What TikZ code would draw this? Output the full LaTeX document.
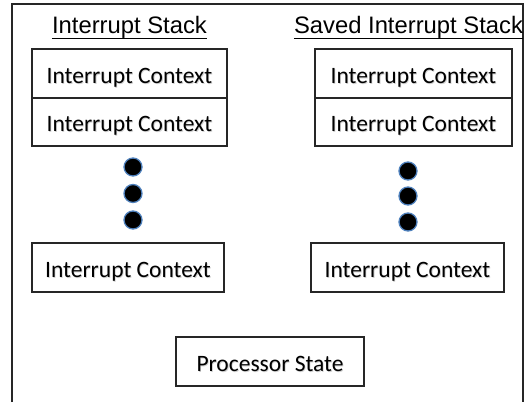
\documentclass[tikz,border=0pt]{standalone}
\usepackage{fontspec}
\setmainfont{Carlito}
\newfontfamily\titlefont{Liberation Sans}
\usetikzlibrary{positioning}

\definecolor{dotrim}{RGB}{79,129,189}

% soft drop shadow under label text
\newcommand\shadowedtext[1]{\leavevmode\rlap{\raisebox{-1.4pt}{\hspace{0.8pt}\textcolor{black!18}{#1}}}#1}

\tikzset{
  ctxbox/.style={draw=black!85, line width=1.4pt, fill=white, inner sep=0pt,
    minimum height=49pt, text height=19pt, text depth=0pt,
    font=\fontsize{23.5}{28}\selectfont},
  stacktitle/.style={inner sep=0pt, anchor=base, font=\titlefont\fontsize{23.8}{28}\selectfont},
  dot/.style={circle, fill=black, draw=dotrim, line width=1.3pt,
    minimum size=18pt, inner sep=0pt},
  frame/.style={draw=black!85, line width=1.4pt}
}

\begin{document}
\begin{tikzpicture}[x=1pt, y=-1pt]
\useasboundingbox (0,0) rectangle (530,402);

% outer frame, open at the bottom
\coordinate (fbl) at (12,402);
\coordinate (ftl) at (12,4);
\coordinate (ftr) at (523,4);
\coordinate (fbr) at (523,402);
\draw[frame] (fbl) -- (ftl) -- (ftr) -- (fbr);

% stack titles
\node[stacktitle] (tl) at (129.5,33) {Interrupt Stack};
\node[stacktitle] (tr) at (408.5,33) {Saved Interrupt Stack};
\draw[line width=1.3pt] ([yshift=-5.5pt]tl.base west) -- ([yshift=-5.5pt]tl.base east);
\draw[line width=1.3pt] ([yshift=-5.5pt]tr.base west) -- ([yshift=-5.5pt]tr.base east);

% interrupt stack
\node[ctxbox, minimum width=195pt] (l1) at (129.5,73.5) {\shadowedtext{Interrupt Context}};
\node[ctxbox, minimum width=195pt, minimum height=48pt] (l2) at (129.5,122) {\shadowedtext{Interrupt Context}};
\node[dot] (ld1) at (133,167) {};
\node[dot] (ld2) at (133,193.5) {};
\node[dot] (ld3) at (133,220) {};
\node[ctxbox, minimum width=192pt] (l3) at (128,267.5) {\shadowedtext{Interrupt Context}};

% saved interrupt stack
\node[ctxbox, minimum width=197pt] (r1) at (413.5,73.5) {\shadowedtext{Interrupt Context}};
\node[ctxbox, minimum width=197pt, minimum height=48pt] (r2) at (413.5,122) {\shadowedtext{Interrupt Context}};
\node[dot] (rd1) at (408,171) {};
\node[dot] (rd2) at (408,196) {};
\node[dot] (rd3) at (408,222) {};
\node[ctxbox, minimum width=193pt] (r3) at (407.5,267.5) {\shadowedtext{Interrupt Context}};

% processor state
\node[ctxbox, minimum width=188pt] (ps) at (270,361.5) {\shadowedtext{Processor State}};
\end{tikzpicture}
\end{document}
